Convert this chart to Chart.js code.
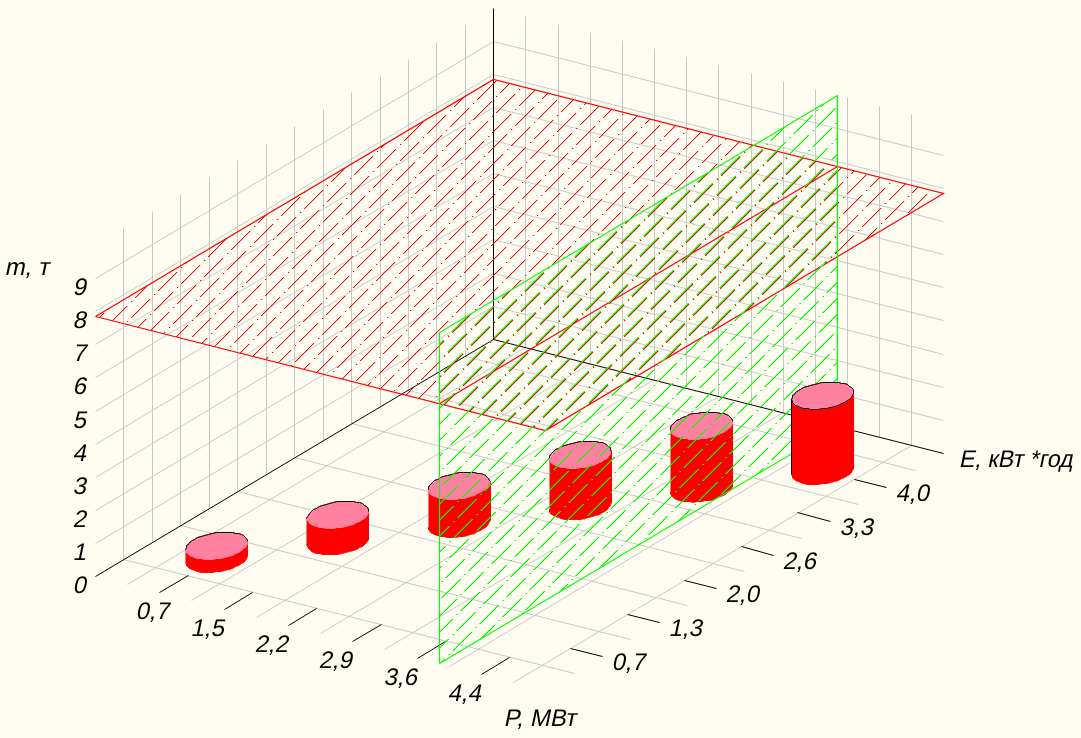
<!DOCTYPE html>
<html>
<head>
<meta charset="utf-8">
<script src="https://cdn.jsdelivr.net/npm/chart.js@4"></script>
<style>
html, body { margin: 0; padding: 0; background: #fffdf1; }
canvas { display: block; }
</style>
</head>
<body>
<canvas id="mycanvas" width="1081" height="738"></canvas>
<script>
// values
var pLabels = ["0,7", "1,5", "2,2", "2,9", "3,6", "4,4"];
var eLabels = ["0,7", "1,3", "2,0", "2,6", "3,3", "4,0"];
var mLabels = ["0", "1", "2", "3", "4", "5", "6", "7", "8", "9"];
var massValues = [0.4, 0.8, 1.15, 1.55, 1.9, 2.27];
var redPlaneM = 7.85;     // horizontal plane, m
var greenPlaneP = 5.35;   // vertical plane, position on the P axis

var AXIS_LEN = 7;   // category steps along P and E
var M_MAX = 10;
var CYL_R = 0.36;

// parallel projection of the 3d box onto the chart's x / y scales
function proj(p, e, m) {
    return {
        x: Math.round(95 + p * 64.3 + e * 56.9) + 0.5,
        y: Math.round(576 + p * 16.3 - e * 33.9 - m * 33.1) + 0.5
    };
}

function segs(list) {
    var out = [];
    for (var i = 0; i < list.length; i++) {
        for (var j = 0; j < list[i].length; j++) {
            out.push(proj(list[i][j][0], list[i][j][1], list[i][j][2]));
        }
        out.push({x: NaN, y: NaN});
    }
    return out;
}

// gray grid
var grid = [];
for (var k = 0; k < AXIS_LEN; k++) {
    grid.push([[k + 0.5, 0, 0], [k + 0.5, AXIS_LEN, 0]]);
    grid.push([[0, k + 0.5, 0], [AXIS_LEN, k + 0.5, 0]]);
}
for (var j = 1; j < AXIS_LEN * 2; j++) {
    grid.push([[j / 2, AXIS_LEN, 0], [j / 2, AXIS_LEN, M_MAX]]);
    grid.push([[0, j / 2, 0], [0, j / 2, M_MAX]]);
}
for (var m = 1; m < M_MAX; m++) {
    grid.push([[0, 0, m], [0, AXIS_LEN, m], [AXIS_LEN, AXIS_LEN, m]]);
}

// black axes and ticks
var axes = [
    [[0, 0, 0], [0, AXIS_LEN, 0], [AXIS_LEN, AXIS_LEN, 0]],
    [[0, AXIS_LEN, 0], [0, AXIS_LEN, M_MAX]]
];
for (var t = 1; t <= pLabels.length; t++) {
    axes.push([[t, 0, 0], [t, 0.5, 0]]);
    axes.push([[AXIS_LEN, t, 0], [AXIS_LEN - 0.5, t, 0]]);
}

function hatch(color, soft, shift, softSide) {
    var size = 432;
    var tile = document.createElement("canvas");
    tile.width = size;
    tile.height = size;
    var c = tile.getContext("2d");
    for (var x = 0; x < size; x++) {
        for (var y = 0; y < size; y++) {
            if ((x + y + shift) % 16 != 0) continue;
            var n = (x + y + shift) / 16;
            var s = (x - 23 * n + 27 * 1000) % 27;
            if (s < 19 || s == 23) {
                c.fillStyle = soft;
                c.fillRect((x + softSide + size) % size, y, 1, 1);
                c.fillStyle = color;
                c.fillRect(x, y, 1, 1);
            }
        }
    }
    return c.createPattern(tile, "repeat");
}

function line(data, color, width, polyFill) {
    return {
        data: data,
        showLine: true,
        borderColor: color,
        borderWidth: width,
        pointRadius: 0,
        tension: 0,
        polyFill: polyFill
    };
}

function cylinder(i, list) {
    var c = i + 1, h = massValues[i];
    var t0 = Math.atan2(56.9, 64.3);
    var body = [], top = [], arc = [];
    function pt(a, mm) {
        return proj(c + CYL_R * Math.cos(a), c + CYL_R * Math.sin(a), mm);
    }
    for (var s = 0; s <= 24; s++) {
        body.push(pt(t0 + Math.PI + s * Math.PI / 24, 0));
    }
    for (s = 0; s <= 24; s++) {
        arc.push(pt(t0 + s * Math.PI / 24, h));
        body.push(pt(t0 + s * Math.PI / 24, h));
    }
    for (s = 0; s <= 48; s++) {
        top.push(pt(t0 + s * Math.PI / 24, h));
    }
    list.push(line(body, "#ff0000", 1, "#ff0000"));
    list.push(line(top, "#ff80a0", 1, "#ff80a0"));
    if (c > greenPlaneP) {
        // the front one is in front of the green plane and keeps its full outline
        list.push(line(top, "#000000", 1));
        list.push(line([pt(t0 + Math.PI, 0), pt(t0 + Math.PI, h)], "#000000", 1));
    } else {
        list.push(line(arc, "#000000", 1));
    }
}

var datasets = [];
datasets.push(line(segs(grid), "#c8c8c8", 1));
datasets.push(line(segs(axes), "#000000", 1));

var A = AXIS_LEN;
datasets.push(line([proj(0, 0, redPlaneM), proj(0, A, redPlaneM), proj(A, A, redPlaneM), proj(A, 0, redPlaneM), proj(0, 0, redPlaneM)],
    "#ff0000", 1.2, hatch("#ff0000", "rgba(255,0,0,0.25)", 0, 1)));
datasets.push(line([proj(greenPlaneP, 0, redPlaneM), proj(greenPlaneP, A, redPlaneM)], "#ff0000", 1.2));

for (var i = 0; i < massValues.length; i++) {
    if (i + 1 < greenPlaneP) cylinder(i, datasets);
}
datasets.push(line([proj(greenPlaneP, 0, 0), proj(greenPlaneP, A, 0), proj(greenPlaneP, A, M_MAX), proj(greenPlaneP, 0, M_MAX), proj(greenPlaneP, 0, 0)],
    "#00ff00", 1.2, hatch("#00ff00", "rgba(0,255,0,0.6)", 1, -1)));
for (i = 0; i < massValues.length; i++) {
    if (i + 1 > greenPlaneP) cylinder(i, datasets);
}
for (i = 0; i < datasets.length; i++) {
    datasets[i].order = -i;
}

var polygons = {
    id: "polygons",
    beforeDatasetDraw: function (chart, args) {
        var fill = chart.data.datasets[args.index].polyFill;
        if (!fill) return;
        var pts = args.meta.data, ctx = chart.ctx;
        ctx.save();
        ctx.fillStyle = fill;
        ctx.beginPath();
        for (var i = 0; i < pts.length; i++) {
            if (i == 0) ctx.moveTo(pts[i].x, pts[i].y);
            else ctx.lineTo(pts[i].x, pts[i].y);
        }
        ctx.closePath();
        ctx.fill();
        ctx.restore();
    }
};

var labels = {
    id: "labels",
    afterDraw: function (chart) {
        var ctx = chart.ctx, sx = chart.scales.x, sy = chart.scales.y;
        // upright face slanted by hand: the italic face draws a cyrillic т like an m
        function put(text, x, y, stretch) {
            ctx.save();
            ctx.font = "24px 'Liberation Sans'";
            ctx.translate(sx.getPixelForValue(x), sy.getPixelForValue(y));
            ctx.transform(stretch, 0, -0.21, 1, 0, 0);
            ctx.fillText(text, 0, 0);
            ctx.restore();
        }
        ctx.save();
        ctx.fillStyle = "#000000";
        ctx.textAlign = "center";
        ctx.textBaseline = "middle";
        var q, i;
        for (i = 0; i < pLabels.length; i++) {
            q = proj(i + 1, 0, 0);
            put(pLabels[i], q.x - (i == 0 ? 6 : 16), q.y + 20, 1);
        }
        for (i = 0; i < eLabels.length; i++) {
            q = proj(AXIS_LEN, i + 1, 0);
            put(eLabels[i], q.x + 27, q.y + 7, 1);
        }
        for (i = 0; i < mLabels.length; i++) {
            q = proj(0, 0, i);
            put(mLabels[i], q.x - 15, q.y + 10, 1);
        }
        put("m, т", 28, 268, 1);
        put("E, кВт *год", 1017, 460, 0.97);
        put("P, МВт", 541, 719, 1);
        ctx.restore();
    }
};

new Chart(document.getElementById("mycanvas"), {
    type: "scatter",
    data: {datasets: datasets},
    options: {
        responsive: false,
        animation: false,
        devicePixelRatio: 1,
        layout: {padding: 0},
        plugins: {legend: {display: false}, tooltip: {enabled: false}},
        scales: {
            x: {type: "linear", min: 0, max: 1081, display: false},
            y: {type: "linear", min: 0, max: 738, reverse: true, display: false}
        }
    },
    plugins: [polygons, labels]
});
</script>
</body>
</html>
